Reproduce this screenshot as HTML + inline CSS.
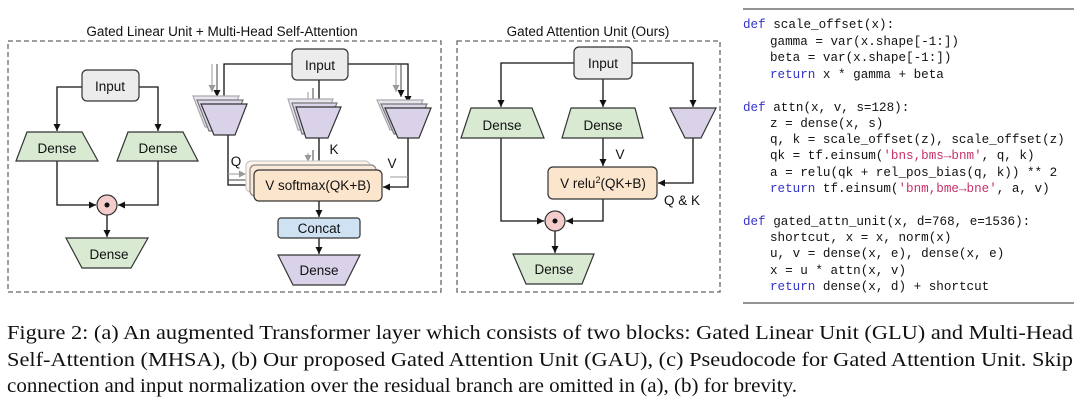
<!DOCTYPE html>
<html><head><meta charset="utf-8"><style>
html,body{margin:0;padding:0;background:#fff;}
svg{display:block;}
.s{font-family:"Liberation Sans",sans-serif;font-size:13.5px;fill:#111;}
.c{font-family:"Liberation Mono",monospace;font-size:12.6px;fill:#111;}
.k{fill:#3434c8;}
.r{fill:#c8306a;}
.cap{font-family:"Liberation Serif",serif;font-size:19.5px;fill:#111;}
</style></head><body>
<svg width="1080" height="401" viewBox="0 0 1080 401" xmlns="http://www.w3.org/2000/svg">
<defs>
<marker id="a" markerWidth="8" markerHeight="8" refX="7" refY="4" orient="auto" markerUnits="userSpaceOnUse"><path d="M0,0.5 L7,4 L0,7.5z" fill="#111"/></marker>
<marker id="ag" markerWidth="8" markerHeight="8" refX="7" refY="4" orient="auto" markerUnits="userSpaceOnUse"><path d="M0,0.5 L7,4 L0,7.5z" fill="#999"/></marker>
</defs>
<g fill="none" stroke="#666" stroke-width="1.3" stroke-dasharray="5,3">
<rect x="8" y="41" width="433" height="251"/>
<rect x="457" y="41" width="263" height="251"/>
</g>
<text class="s" x="222" y="36" text-anchor="middle">Gated Linear Unit  + Multi-Head Self-Attention</text>
<text class="s" x="588" y="36" text-anchor="middle">Gated Attention Unit (Ours)</text>

<g stroke="#111" stroke-width="1.3" fill="none">
<path d="M82,87 H57 V131" marker-end="url(#a)"/>
<path d="M139,87 H158 V131" marker-end="url(#a)"/>
<path d="M57,161 V205 H96" marker-end="url(#a)"/>
<path d="M158,161 V205 H118" marker-end="url(#a)"/>
<path d="M107,215 V237" marker-end="url(#a)"/>
<path d="M292,64 H224 V103" marker-end="url(#a)"/>
<path d="M348,64 H408 V103" marker-end="url(#a)"/>
<path d="M319,80 V106" marker-end="url(#a)"/>
<path d="M228,135 V185 H253" marker-end="url(#a)"/>
<path d="M408,138 V187 H383" marker-end="url(#a)"/>
<path d="M319,138 V169" marker-end="url(#a)"/>
<path d="M319,201 V217" marker-end="url(#a)"/>
<path d="M319,238 V254" marker-end="url(#a)"/>
<path d="M574,63 H501 V107" marker-end="url(#a)"/>
<path d="M603,79 V107" marker-end="url(#a)"/>
<path d="M632,63 H693 V107" marker-end="url(#a)"/>
<path d="M603,138 V166" marker-end="url(#a)"/>
<path d="M693,138 V183 H658" marker-end="url(#a)"/>
<path d="M501,138 V221 H544" marker-end="url(#a)"/>
<path d="M603,199 V221 H566" marker-end="url(#a)"/>
<path d="M555,231 V253" marker-end="url(#a)"/>
</g>
<g stroke="#999" stroke-width="1" fill="none">
<path d="M212,64 V92" marker-end="url(#ag)"/><path d="M217,64 V97" marker-end="url(#a)" stroke="#444"/>
<path d="M396,64 V92" marker-end="url(#ag)"/><path d="M401,64 V97" marker-end="url(#a)" stroke="#444"/>
<path d="M308,92 V100"/><path d="M313,88 V102" stroke="#444"/>
<path d="M228,174 H246" marker-end="url(#ag)"/><path d="M228,180 H250" stroke="#444"/>
<path d="M408,177 H390"/><path d="M308,153 V162" marker-end="url(#ag)"/><path d="M313,150 V165" stroke="#444"/>
</g>

<g stroke="#333" stroke-width="1.2">
<rect x="82" y="70" width="57" height="31" rx="5" fill="#ececec"/>
<path d="M27,132 H82 L98,161 H16z" fill="#d9ead3"/>
<path d="M128,132 H183 L198,161 H117z" fill="#d9ead3"/>
<circle cx="107" cy="205" r="10" fill="#f4cccc"/>
<path d="M66,238 H148 L131,268 H82z" fill="#d9ead3"/>

<rect x="292" y="49" width="56" height="31" rx="5" fill="#ececec"/>
<g stroke="#aaa" fill="#e8e4f0"><path d="M193,96 H239 L226,127 H205z"/><path d="M288,99 H333 L320,130 H298z"/><path d="M377,100 H423 L410,130 H390z"/></g>
<g stroke="#777" fill="#ddd6ea"><path d="M197,100 H243 L230,131 H209z"/><path d="M292,103 H337 L324,134 H302z"/><path d="M381,104 H427 L414,134 H394z"/></g>
<path d="M201,104 H247 L235,135 H214z" fill="#d9d2e9"/>
<path d="M296,107 H341 L328,138 H306z" fill="#d9d2e9"/>
<path d="M385,108 H431 L419,138 H398z" fill="#d9d2e9"/>
<rect x="246" y="161" width="124" height="31" rx="5" fill="#fdf3e7" stroke="#ccc"/>
<rect x="250" y="165" width="126" height="31" rx="5" fill="#fbe8d6" stroke="#888"/>
<rect x="254" y="170" width="128" height="31" rx="5" fill="#fce5cd"/>
<rect x="278" y="218" width="82" height="20" rx="3" fill="#cfe2f3"/>
<path d="M278,255 H360 L345,285 H293z" fill="#d9d2e9"/>

<rect x="574" y="47" width="58" height="32" rx="5" fill="#ececec"/>
<path d="M471,108 H532 L544,138 H461z" fill="#d9ead3"/>
<path d="M571,108 H635 L643,138 H562z" fill="#d9ead3"/>
<path d="M670,108 H716 L701,138 H685z" fill="#d9d2e9"/>
<rect x="548" y="167" width="109" height="32" rx="5" fill="#fce5cd"/>
<circle cx="555" cy="221" r="10" fill="#f4cccc"/>
<path d="M513,254 H594 L582,284 H526z" fill="#d9ead3"/>
</g>
<circle cx="107" cy="205" r="2.5" fill="#111"/>
<circle cx="555" cy="221" r="2.5" fill="#111"/>

<text class="s" x="110" y="91" text-anchor="middle">Input</text>
<text class="s" x="57" y="153" text-anchor="middle">Dense</text>
<text class="s" x="158" y="153" text-anchor="middle">Dense</text>
<text class="s" x="109" y="259" text-anchor="middle">Dense</text>
<text class="s" x="320" y="70" text-anchor="middle">Input</text>
<text class="s" x="236" y="166" text-anchor="middle">Q</text>
<text class="s" x="334" y="154" text-anchor="middle">K</text>
<text class="s" x="392" y="168" text-anchor="middle">V</text>
<text class="s" x="318" y="190" text-anchor="middle">V softmax(QK+B)</text>
<text class="s" x="319" y="233" text-anchor="middle">Concat</text>
<text class="s" x="319" y="275" text-anchor="middle">Dense</text>
<text class="s" x="603" y="68" text-anchor="middle">Input</text>
<text class="s" x="502" y="130" text-anchor="middle">Dense</text>
<text class="s" x="603" y="130" text-anchor="middle">Dense</text>
<text class="s" x="620" y="159" text-anchor="middle">V</text>
<text class="s" x="603" y="188" text-anchor="middle">V relu<tspan font-size="9" dy="-5">2</tspan><tspan dy="5">(QK+B)</tspan></text>
<text class="s" x="682" y="205" text-anchor="middle">Q &amp; K</text>
<text class="s" x="554" y="274" text-anchor="middle">Dense</text>

<line x1="743" y1="9" x2="1074" y2="9" stroke="#555" stroke-width="1.2"/>
<line x1="743" y1="303" x2="1074" y2="303" stroke="#555" stroke-width="1.2"/>
<g class="c" xml:space="preserve">
<text x="743" y="28"><tspan class="k">def</tspan> scale_offset(x):</text>
<text x="770" y="45">gamma = var(x.shape[-1:])</text>
<text x="770" y="61">beta = var(x.shape[-1:])</text>
<text x="770" y="78"><tspan class="k">return</tspan> x * gamma + beta</text>
<text x="743" y="111"><tspan class="k">def</tspan> attn(x, v, s=128):</text>
<text x="770" y="127">z = dense(x, s)</text>
<text x="770" y="143">q, k = scale_offset(z), scale_offset(z)</text>
<text x="770" y="159">qk = tf.einsum(<tspan class="r">'bns,bms→bnm'</tspan>, q, k)</text>
<text x="770" y="176">a = relu(qk + rel_pos_bias(q, k)) ** 2</text>
<text x="770" y="192"><tspan class="k">return</tspan> tf.einsum(<tspan class="r">'bnm,bme→bne'</tspan>, a, v)</text>
<text x="743" y="225"><tspan class="k">def</tspan> gated_attn_unit(x, d=768, e=1536):</text>
<text x="770" y="241">shortcut, x = x, norm(x)</text>
<text x="770" y="257">u, v = dense(x, e), dense(x, e)</text>
<text x="770" y="274">x = u * attn(x, v)</text>
<text x="770" y="290"><tspan class="k">return</tspan> dense(x, d) + shortcut</text>
</g>

<text class="cap" x="7" y="339" textLength="1066" lengthAdjust="spacingAndGlyphs">Figure 2: (a) An augmented Transformer layer which consists of two blocks: Gated Linear Unit (GLU) and Multi-Head</text>
<text class="cap" x="7" y="366" textLength="1066" lengthAdjust="spacingAndGlyphs">Self-Attention (MHSA), (b) Our proposed Gated Attention Unit (GAU), (c) Pseudocode for Gated Attention Unit. Skip</text>
<text class="cap" x="7" y="392" textLength="790" lengthAdjust="spacingAndGlyphs">connection and input normalization over the residual branch are omitted in (a), (b) for brevity.</text>
</svg>
</body></html>
